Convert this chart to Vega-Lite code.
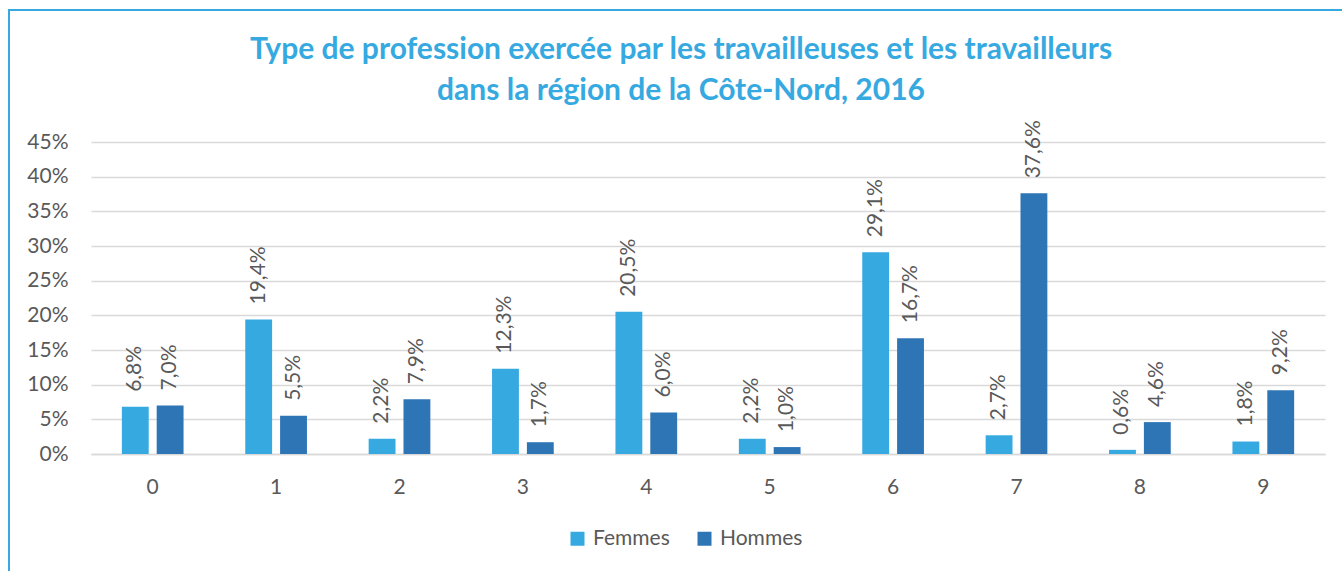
{
  "$schema": "https://vega.github.io/schema/vega-lite/v6.json",
  "width": 1340,
  "height": 570,
  "autosize": {"type": "none"},
  "padding": {"left": 9, "top": 10, "right": 0, "bottom": 0},
  "background": "white",
  "config": {
    "locale": {"number": {"decimal": ",", "thousands": " ", "grouping": [3], "currency": ["", " $"]}},
    "view": {"stroke": "#36A9E1", "strokeWidth": 2},
    "font": "Lato"
  },
  "title": {
    "text": ["Type de profession exercée par les travailleuses et les travailleurs", "dans la région de la Côte-Nord, 2016"],
    "anchor": "middle",
    "frame": "group",
    "font": "Lato",
    "fontSize": 30,
    "fontWeight": "bold",
    "color": "#36A9E1",
    "lineHeight": 41,
    "offset": -96,
    "dx": 2
  },
  "data": {
    "values": [
      {"code": 0, "sexe": "Femmes", "pct": 0.068},
      {"code": 0, "sexe": "Hommes", "pct": 0.070},
      {"code": 1, "sexe": "Femmes", "pct": 0.194},
      {"code": 1, "sexe": "Hommes", "pct": 0.055},
      {"code": 2, "sexe": "Femmes", "pct": 0.022},
      {"code": 2, "sexe": "Hommes", "pct": 0.079},
      {"code": 3, "sexe": "Femmes", "pct": 0.123},
      {"code": 3, "sexe": "Hommes", "pct": 0.017},
      {"code": 4, "sexe": "Femmes", "pct": 0.205},
      {"code": 4, "sexe": "Hommes", "pct": 0.060},
      {"code": 5, "sexe": "Femmes", "pct": 0.022},
      {"code": 5, "sexe": "Hommes", "pct": 0.010},
      {"code": 6, "sexe": "Femmes", "pct": 0.291},
      {"code": 6, "sexe": "Hommes", "pct": 0.167},
      {"code": 7, "sexe": "Femmes", "pct": 0.027},
      {"code": 7, "sexe": "Hommes", "pct": 0.376},
      {"code": 8, "sexe": "Femmes", "pct": 0.006},
      {"code": 8, "sexe": "Hommes", "pct": 0.046},
      {"code": 9, "sexe": "Femmes", "pct": 0.018},
      {"code": 9, "sexe": "Hommes", "pct": 0.092}
    ]
  },
  "encoding": {
    "x": {
      "field": "code",
      "type": "ordinal",
      "scale": {"range": [82, 1316], "paddingInner": 0.5, "paddingOuter": 0.25},
      "axis": {
        "orient": "bottom",
        "offset": -126,
        "title": null,
        "labelAngle": 0,
        "labelFont": "Lato",
        "labelFontSize": 21,
        "labelColor": "#595959",
        "ticks": false,
        "labelPadding": 22,
        "domain": true,
        "domainColor": "#D9D9D9",
        "domainWidth": 1.3,
        "grid": false
      }
    },
    "xOffset": {
      "field": "sexe",
      "type": "nominal",
      "sort": ["Femmes", "Hommes"],
      "scale": {"paddingInner": 0.229, "paddingOuter": 0}
    },
    "y": {
      "field": "pct",
      "type": "quantitative",
      "scale": {"domain": [0, 0.45], "range": [444, 132], "nice": false, "zero": true},
      "axis": {
        "offset": -82,
        "title": null,
        "values": [0, 0.05, 0.1, 0.15, 0.2, 0.25, 0.3, 0.35, 0.4, 0.45],
        "format": ".0%",
        "labelFont": "Lato",
        "labelFontSize": 21,
        "labelColor": "#595959",
        "ticks": false,
        "labelPadding": 23,
        "domain": false,
        "grid": true,
        "gridColor": "#D9D9D9",
        "gridWidth": 1.3
      }
    }
  },
  "layer": [
    {
      "mark": {"type": "bar"},
      "encoding": {
        "color": {
          "field": "sexe",
          "type": "nominal",
          "scale": {"domain": ["Femmes", "Hommes"], "range": ["#36A9E1", "#2E75B6"]},
          "legend": {
            "orient": "none",
            "legendX": 558,
            "legendY": 518,
            "direction": "horizontal",
            "title": null,
            "symbolType": "square",
            "symbolSize": 196,
            "symbolStrokeWidth": 0,
            "labelFont": "Lato",
            "labelFontSize": 21,
            "labelColor": "#595959",
            "labelOffset": 5,
            "columnPadding": 24,
            "padding": 0
          }
        }
      }
    },
    {
      "mark": {"type": "text", "angle": 270, "align": "left", "baseline": "middle", "dx": 15, "font": "Lato", "fontSize": 21, "color": "#595959"},
      "encoding": {
        "text": {"field": "pct", "type": "quantitative", "format": ".1%"}
      }
    }
  ]
}
